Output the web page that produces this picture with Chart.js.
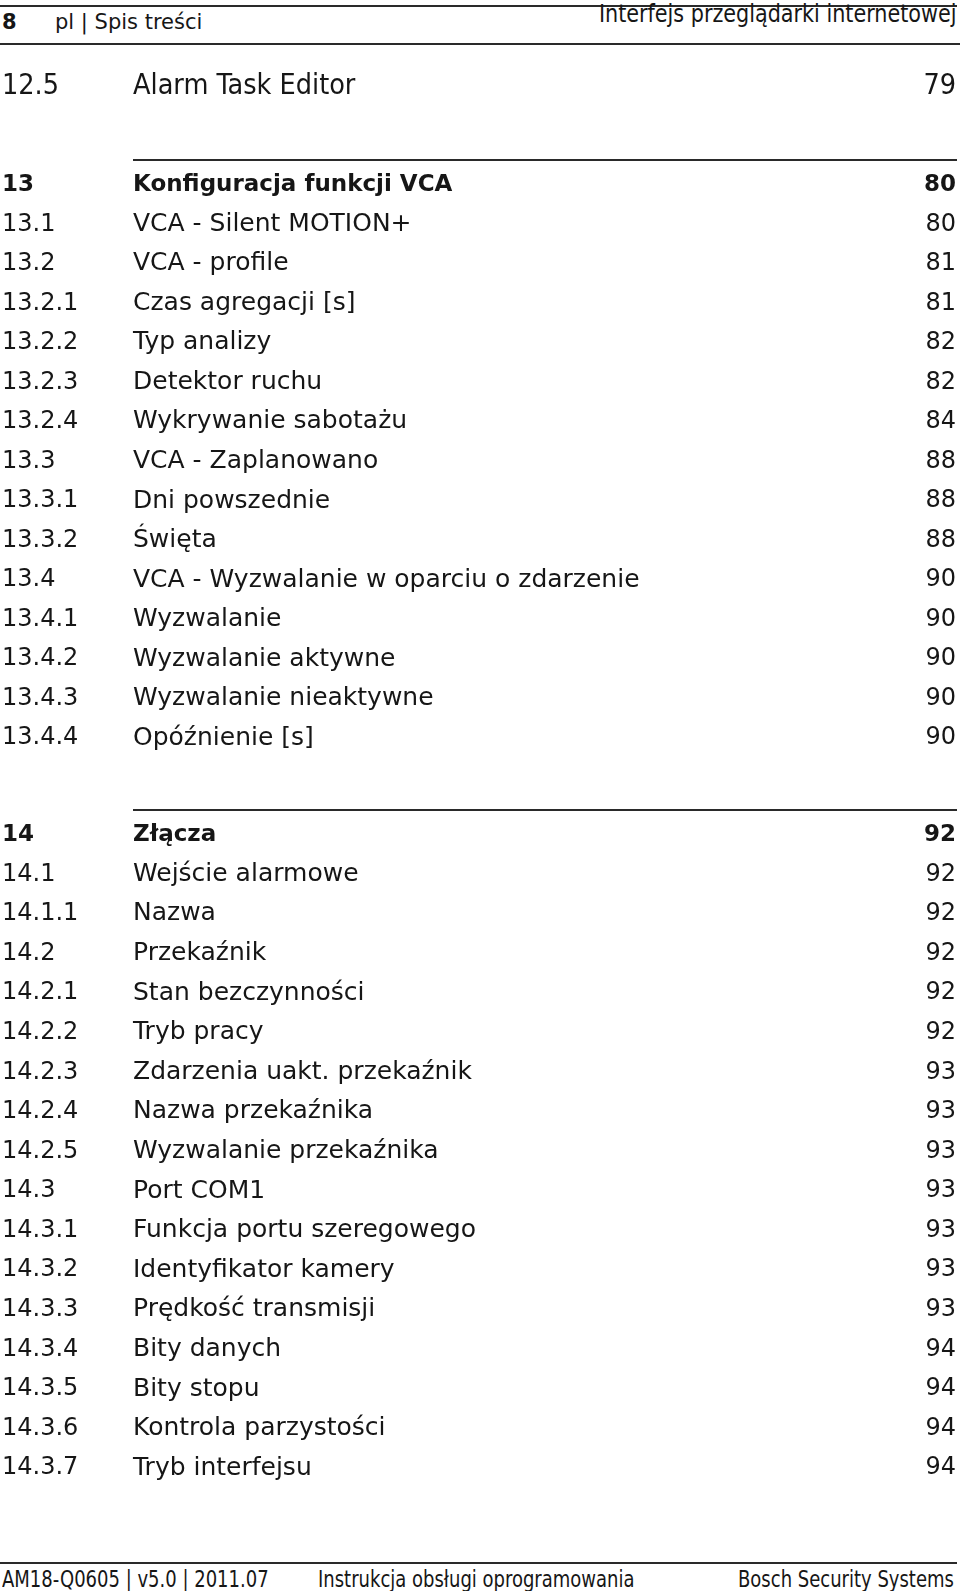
<!DOCTYPE html>
<html lang="pl">
<head>
<meta charset="utf-8">
<title>Spis treści</title>
<script src="https://cdn.jsdelivr.net/npm/chart.js@4.4.1/dist/chart.umd.min.js"></script>
<style>
    html, body { margin: 0; padding: 0; background: #fff; }
    body { width: 960px; height: 1591px; position: relative; overflow: hidden; color: #161616; }
    .rule { position: absolute; left: 0; height: 2px; background: #2a2a2a; }
    .txt { position: absolute; white-space: nowrap; font-family: "DejaVu Sans Condensed", sans-serif; font-size: 24px; line-height: 1; }
    .head { font-family: "DejaVu Sans", sans-serif; font-size: 21px; }
    .right { transform-origin: right center; }
    .foot { font-size: 23px; transform: scaleX(0.87); transform-origin: left center; }
    canvas.block { position: absolute; left: 0; }
</style>
</head>
<body>
<div class="rule" style="top:5px; width:957px;"></div>
<div class="txt head" style="left:2px; top:12px; font-weight:bold;">8</div>
<div class="txt head" style="left:55px; top:12px;">pl | Spis treści</div>
<div class="txt right" style="right:4px; top:2px; transform:scaleX(0.96);">Interfejs przeglądarki internetowej</div>
<div class="rule" style="top:43px; width:960px;"></div>

<canvas class="block" id="introChart"></canvas>
<canvas class="block" id="vcaChart"></canvas>
<canvas class="block" id="portChart"></canvas>

<div class="rule" style="top:1562px; width:957px;"></div>
<div class="txt foot" style="left:2px; top:1568px;">AM18-Q0605 | v5.0 | 2011.07</div>
<div class="txt foot" style="left:318px; top:1568px;">Instrukcja obsługi oprogramowania</div>
<div class="txt foot" style="left:738px; top:1568px;">Bosch Security Systems</div>

<script>
// Table of contents entries, one block per chapter
const introNums = ['12.5'];
const introTitles = ['Alarm Task Editor'];
const introPages = [79];

const vcaNums = ['13', '13.1', '13.2', '13.2.1', '13.2.2', '13.2.3', '13.2.4', '13.3',
    '13.3.1', '13.3.2', '13.4', '13.4.1', '13.4.2', '13.4.3', '13.4.4'];
const vcaTitles = ['Konfiguracja funkcji VCA', 'VCA - Silent MOTION+', 'VCA - profile',
    'Czas agregacji [s]', 'Typ analizy', 'Detektor ruchu', 'Wykrywanie sabotażu',
    'VCA - Zaplanowano', 'Dni powszednie', 'Święta', 'VCA - Wyzwalanie w oparciu o zdarzenie',
    'Wyzwalanie', 'Wyzwalanie aktywne', 'Wyzwalanie nieaktywne', 'Opóźnienie [s]'];
const vcaPages = [80, 80, 81, 81, 82, 82, 84, 88, 88, 88, 90, 90, 90, 90, 90];

const portNums = ['14', '14.1', '14.1.1', '14.2', '14.2.1', '14.2.2', '14.2.3', '14.2.4',
    '14.2.5', '14.3', '14.3.1', '14.3.2', '14.3.3', '14.3.4', '14.3.5', '14.3.6', '14.3.7'];
const portTitles = ['Złącza', 'Wejście alarmowe', 'Nazwa', 'Przekaźnik', 'Stan bezczynności',
    'Tryb pracy', 'Zdarzenia uakt. przekaźnik', 'Nazwa przekaźnika', 'Wyzwalanie przekaźnika',
    'Port COM1', 'Funkcja portu szeregowego', 'Identyfikator kamery', 'Prędkość transmisji',
    'Bity danych', 'Bity stopu', 'Kontrola parzystości', 'Tryb interfejsu'];
const portPages = [92, 92, 92, 92, 92, 92, 93, 93, 93, 93, 93, 93, 93, 94, 94, 94, 94];

const NUM_X = 2;
const TITLE_X = 133;
const PAGE_X = 956;
const INK = '#161616';

// draws the three text columns on the rows of the y scale
const tocText = {
    id: 'tocText',
    afterDraw(chart, args, opts) {
        const ctx = chart.ctx;
        const yScale = chart.scales.y;
        ctx.save();
        ctx.textBaseline = 'middle';

        if (opts.rule) {
            const ry = Math.round(yScale.getPixelForValue(0) - 24);
            ctx.fillStyle = '#2a2a2a';
            ctx.fillRect(TITLE_X, ry - 1, PAGE_X + 1 - TITLE_X, 2);
        }

        ctx.fillStyle = INK;
        opts.nums.forEach((num, i) => {
            const py = yScale.getPixelForValue(i) + 1;
            const bold = opts.headBold && i === 0;
            ctx.textAlign = 'left';
            ctx.font = bold ? opts.boldFont : opts.numFont;
            ctx.fillText(num, NUM_X, py);
            ctx.font = bold ? opts.boldFont : opts.titleFont;
            ctx.fillText(opts.titles[i], TITLE_X, py);
            ctx.textAlign = 'right';
            ctx.font = bold ? opts.boldFont : opts.numFont;
            ctx.fillText(String(opts.pages[i]), PAGE_X, py);
        });
        ctx.restore();
    }
};

function makeBlock(canvasId, firstRow, pitch, padTop, nums, titles, pages, extra) {
    const canvas = document.getElementById(canvasId);
    const height = padTop + nums.length * pitch;
    canvas.width = 960;
    canvas.height = Math.round(height);
    canvas.style.top = (firstRow - pitch / 2 - padTop) + 'px';

    return new Chart(canvas.getContext('2d'), {
        type: 'bar',
        data: {
            labels: nums,
            datasets: [{
                data: pages,
                backgroundColor: 'rgba(0,0,0,0)',
                borderWidth: 0
            }]
        },
        options: {
            indexAxis: 'y',
            responsive: false,
            animation: false,
            events: [],
            layout: { padding: { top: padTop, left: 0, right: 0, bottom: 0 } },
            plugins: {
                legend: { display: false },
                tooltip: { enabled: false },
                tocText: Object.assign({ nums, titles, pages }, extra)
            },
            scales: {
                x: { display: false, min: 0, max: 100 },
                y: { display: false, offset: true }
            }
        },
        plugins: [tocText]
    });
}

const condensed = '28.5px "DejaVu Sans Condensed", sans-serif';
const bodyFonts = {
    numFont: '24px "DejaVu Sans", sans-serif',
    titleFont: '25px "DejaVu Sans", sans-serif',
    boldFont: 'bold 23px "DejaVu Sans", sans-serif',
    headBold: true,
    rule: true
};

makeBlock('introChart', 86, 40, 0, introNums, introTitles, introPages,
    { numFont: condensed, titleFont: condensed, boldFont: condensed, headBold: false, rule: false });
makeBlock('vcaChart', 184, 39.5, 30, vcaNums, vcaTitles, vcaPages, bodyFonts);
makeBlock('portChart', 834, 39.6, 30, portNums, portTitles, portPages, bodyFonts);
</script>
</body>
</html>
